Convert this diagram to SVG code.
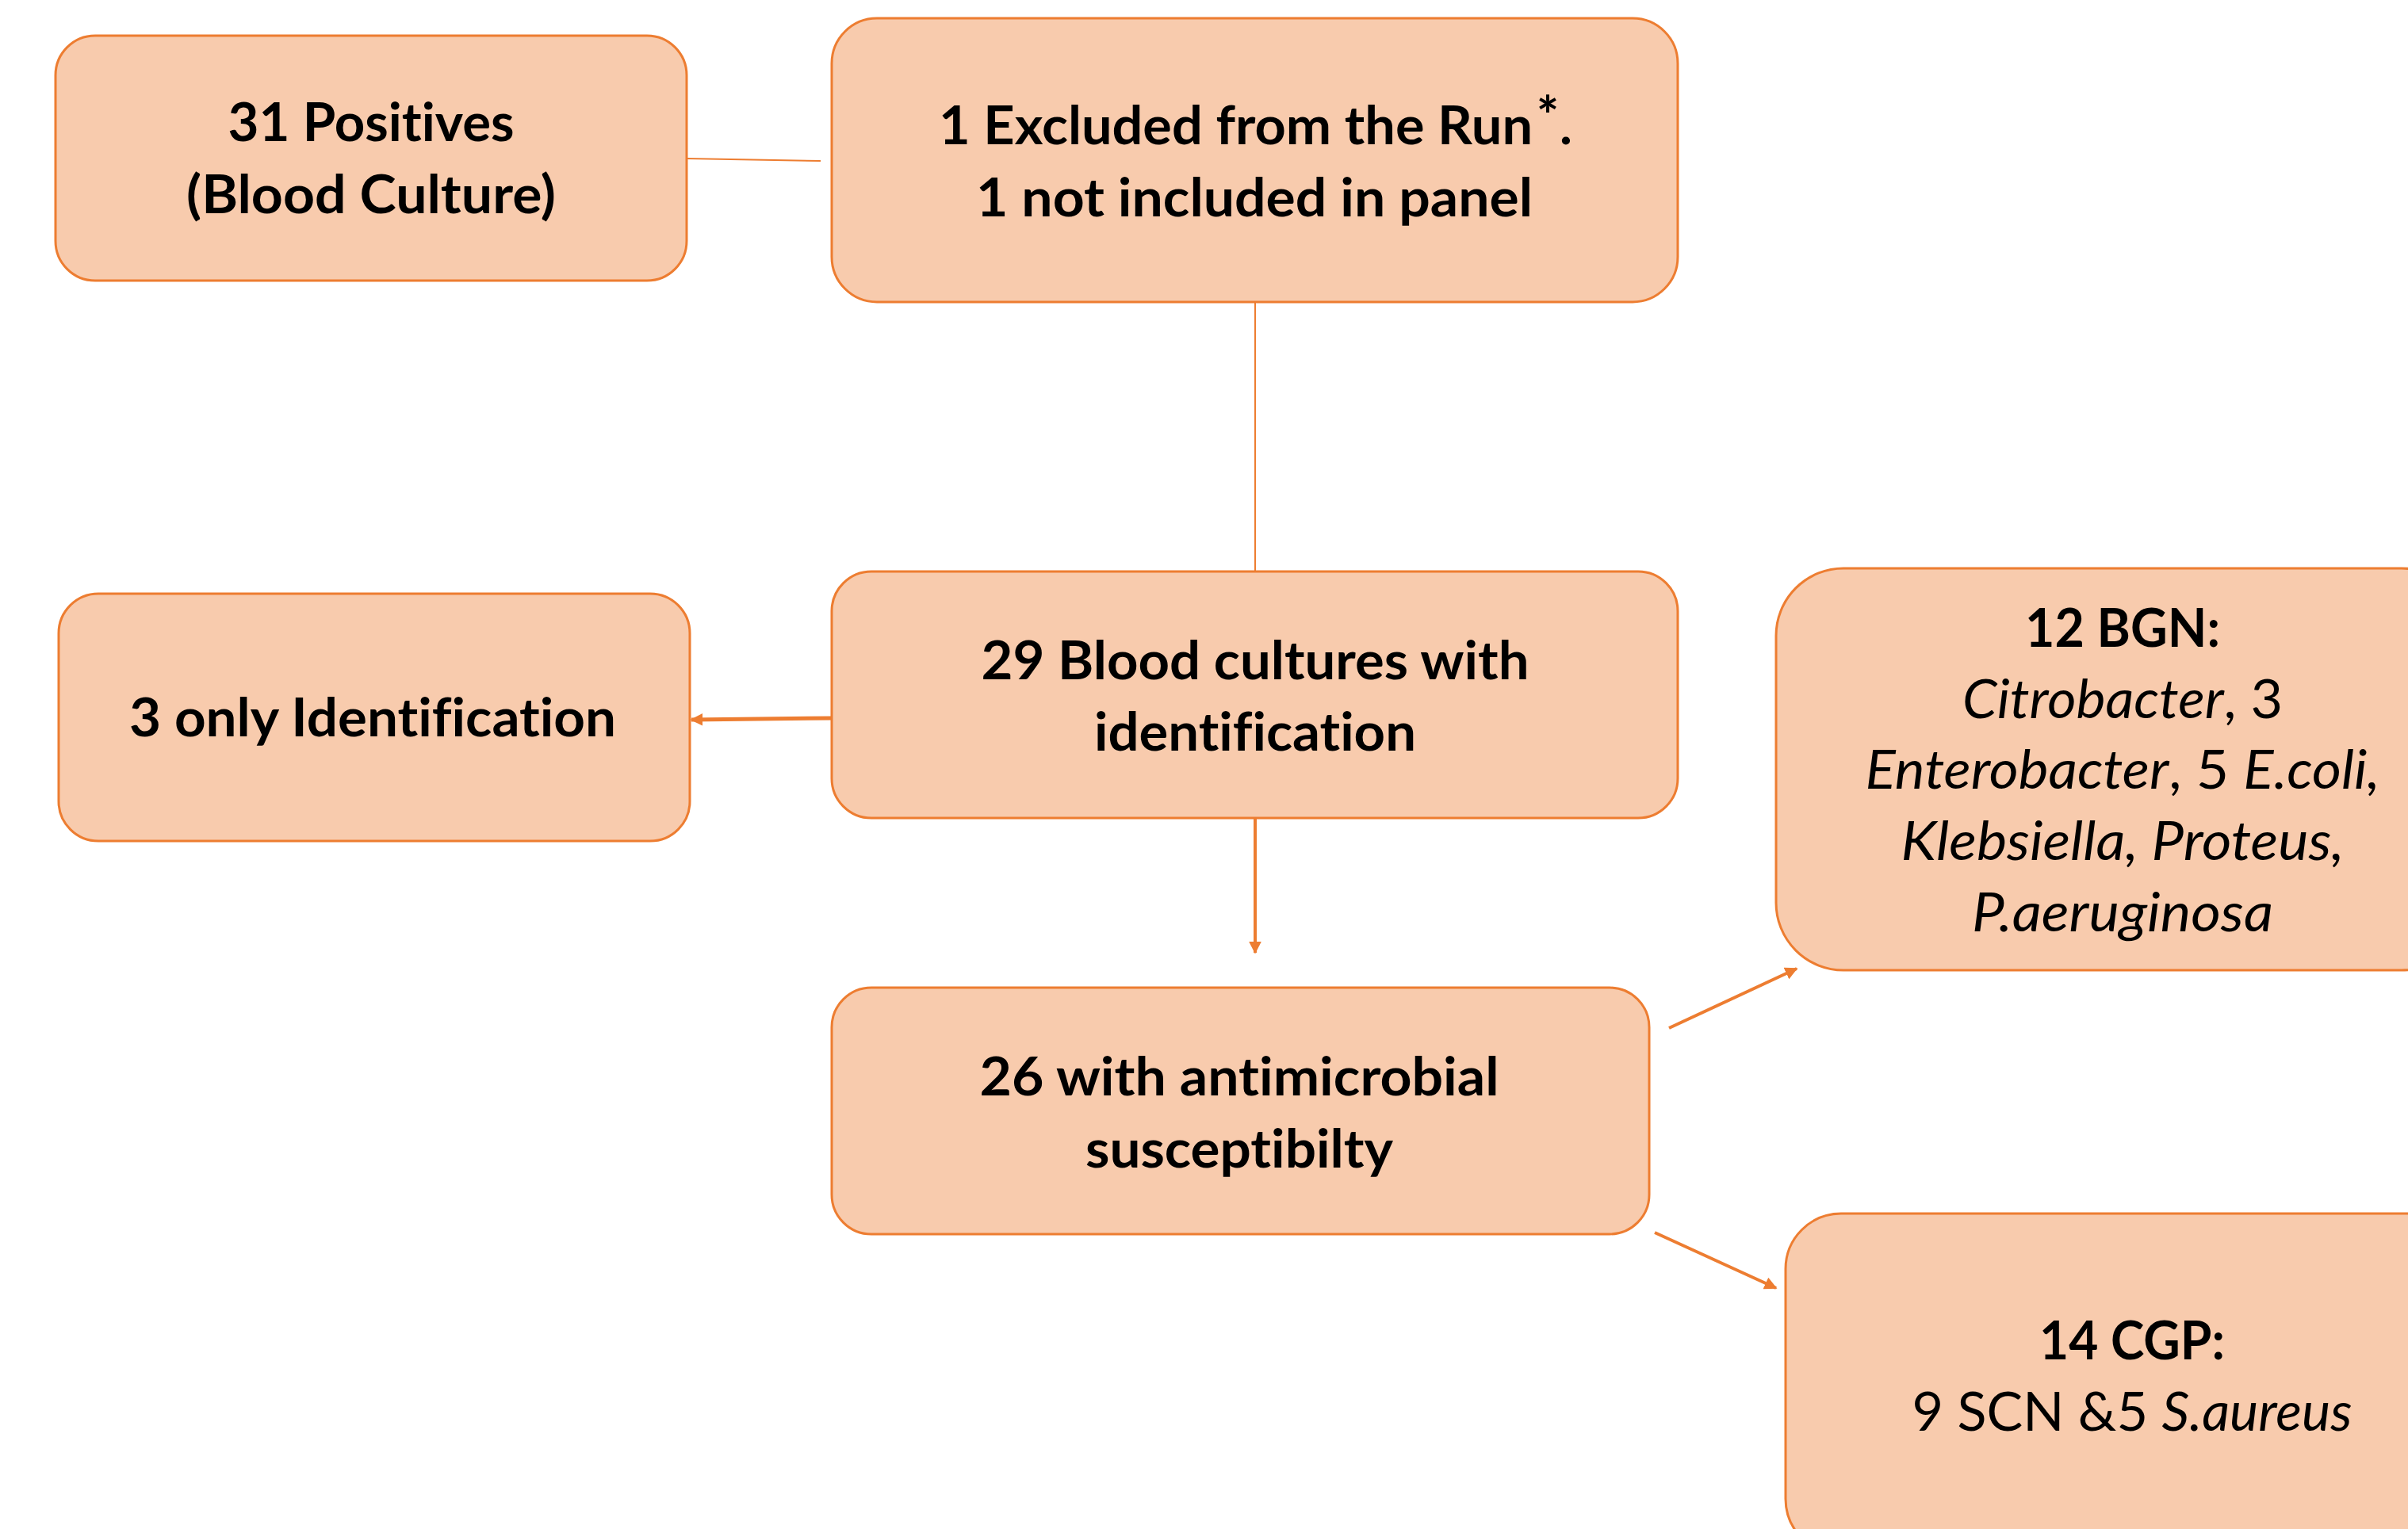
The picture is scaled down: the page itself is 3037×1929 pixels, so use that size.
<svg xmlns="http://www.w3.org/2000/svg" width="3037" height="1929" viewBox="0 0 3037 1929">
<style>
.box{fill:#F8CBAD;stroke:#ED7D31;stroke-width:3}
.t{font-family:Lato,"Noto Sans","Liberation Sans",sans-serif;font-size:67px;fill:#000;text-anchor:middle;font-variant-ligatures:none;font-feature-settings:"liga" 0,"clig" 0}
.b{font-weight:bold}
.i{font-style:italic}
.c{stroke:#ED7D31;fill:none}
</style>
<defs>
<marker id="ah" viewBox="0 0 10 10" refX="9" refY="5" markerWidth="16" markerHeight="16" markerUnits="userSpaceOnUse" orient="auto">
<path d="M0,0 L10,5 L0,10 z" fill="#ED7D31"/>
</marker>
</defs>
<rect width="3037" height="1929" fill="#fff"/>
<g id="connectors">
<line class="c" x1="866" y1="200" x2="1035" y2="203" stroke-width="2"/>
<line class="c" x1="1583" y1="381" x2="1583" y2="721" stroke-width="2"/>
<line class="c" x1="1049" y1="906" x2="872" y2="908" stroke-width="5" marker-end="url(#ah)"/>
<line class="c" x1="1583" y1="1032" x2="1583" y2="1202" stroke-width="4" marker-end="url(#ah)"/>
<line class="c" x1="2105" y1="1297" x2="2266" y2="1222" stroke-width="4" marker-end="url(#ah)"/>
<line class="c" x1="2087" y1="1555" x2="2240" y2="1625" stroke-width="4" marker-end="url(#ah)"/>
</g>
<g id="n-positives">
<rect class="box" x="70" y="45" width="796" height="309" rx="50"/>
<text class="t b" x="468" y="178" textLength="361" lengthAdjust="spacingAndGlyphs">31 Positives</text>
<text class="t b" x="468" y="269" textLength="466" lengthAdjust="spacingAndGlyphs">(Blood Culture)</text>
</g>
<g id="n-excluded">
<rect class="box" x="1049" y="23" width="1067" height="358" rx="57"/>
<text class="t b" x="1184" y="182" style="text-anchor:start" textLength="749" lengthAdjust="spacingAndGlyphs">1 Excluded from the Run</text>
<text class="t b" x="1952" y="170" font-size="40">*</text>
<text class="t b" x="1975" y="182">.</text>
<text class="t b" x="1582" y="273" textLength="702" lengthAdjust="spacingAndGlyphs">1 not included in panel</text>
</g>
<g id="n-identified">
<rect class="box" x="1049" y="721" width="1067" height="311" rx="50"/>
<text class="t b" x="1583" y="857" textLength="691" lengthAdjust="spacingAndGlyphs">29 Blood cultures with</text>
<text class="t b" x="1583" y="947" textLength="406" lengthAdjust="spacingAndGlyphs">identification</text>
</g>
<g id="n-only-id">
<rect class="box" x="74" y="749" width="796" height="312" rx="50"/>
<text class="t b" x="470" y="929" textLength="614" lengthAdjust="spacingAndGlyphs">3 only Identification</text>
</g>
<g id="n-susceptibility">
<rect class="box" x="1049" y="1246" width="1031" height="311" rx="50"/>
<text class="t b" x="1563" y="1382" textLength="655" lengthAdjust="spacingAndGlyphs">26 with antimicrobial</text>
<text class="t b" x="1563" y="1473" textLength="388" lengthAdjust="spacingAndGlyphs">susceptibilty</text>
</g>
<g id="n-bgn">
<rect class="box" x="2240" y="717" width="874" height="507" rx="85"/>
<text class="t b" x="2677" y="816" textLength="246" lengthAdjust="spacingAndGlyphs">12 BGN:</text>
<text class="t" x="2677" y="906" textLength="404" lengthAdjust="spacingAndGlyphs"><tspan class="i">Citrobacter</tspan>, 3</text>
<text class="t" x="2677" y="995" textLength="649" lengthAdjust="spacingAndGlyphs"><tspan class="i">Enterobacter</tspan>, 5 <tspan class="i">E.coli,</tspan></text>
<text class="t i" x="2677" y="1085" textLength="559" lengthAdjust="spacingAndGlyphs">Klebsiella, Proteus,</text>
<text class="t i" x="2677" y="1175" textLength="380" lengthAdjust="spacingAndGlyphs">P.aeruginosa</text>
</g>
<g id="n-cgp">
<rect class="box" x="2252" y="1531" width="874" height="430" rx="70"/>
<text class="t b" x="2689" y="1715" textLength="234" lengthAdjust="spacingAndGlyphs">14 CGP:</text>
<text class="t" x="2689" y="1805" textLength="555" lengthAdjust="spacingAndGlyphs">9 SCN &amp;5 <tspan class="i">S.aureus</tspan></text>
</g>
</svg>
